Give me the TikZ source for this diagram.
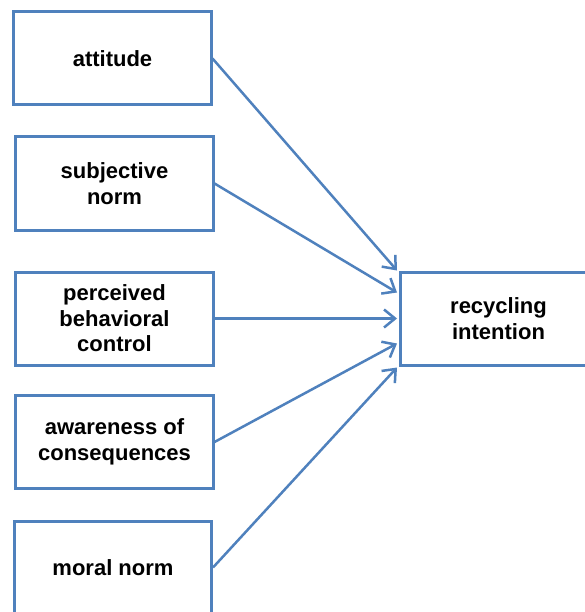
\documentclass[tikz,border=0pt]{standalone}
\usepackage{fontspec}
\setmainfont{Liberation Sans}
\usetikzlibrary{arrows.meta}
\definecolor{boxblue}{HTML}{4F81BD}
\tikzset{
  factor/.style={draw=boxblue, line width=3bp, fill=white, minimum width=197bp, minimum height=93bp,
    inner sep=0pt, align=center, font=\fontsize{22bp}{25.5bp}\selectfont\bfseries, text=black},
  link/.style={draw=boxblue, line width=2.5bp, -{Straight Barb[length=11bp,width=18bp,line width=2.5bp]}}
}
\begin{document}
\begin{tikzpicture}[x=1bp,y=-1bp]
\clip (0,0) rectangle (585,612);
\fill[white] (0,0) rectangle (585,612);
\node[factor] (a) at (112.5,58.5) {attitude};
\node[factor] (b) at (114.5,183.5) {subjective\\norm};
\node[factor] (c) at (114.5,318.5) {perceived\\behavioral\\control};
\node[factor] (d) at (114.5,442) {awareness of\\consequences};
\node[factor] (e) at (113,567.5) {moral norm};
\node[factor] (r) at (498.5,318.5) {recycling\\intention};
\draw[link] (a.east) -- ([xshift=-1.5bp,yshift=48bp]r.west);
\draw[link] (b.east) -- ([xshift=-1.5bp,yshift=26bp]r.west);
\draw[link] (c.east) -- ([xshift=-1.5bp]r.west);
\draw[link] (d.east) -- ([xshift=-1.5bp,yshift=-25bp]r.west);
\draw[link] (e.east) -- ([xshift=-1.5bp,yshift=-49bp]r.west);
\end{tikzpicture}
\end{document}
